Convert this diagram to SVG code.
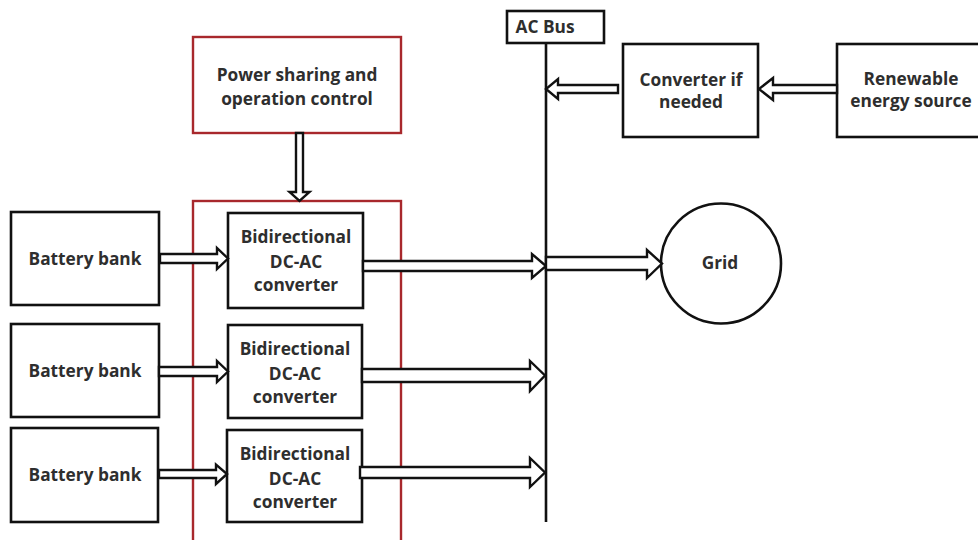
<svg xmlns="http://www.w3.org/2000/svg" width="978" height="540" viewBox="0 0 978 540">
<style>
.box{fill:#fff;stroke:#111;stroke-width:2.6}
.red{fill:none;stroke:#a8282c;stroke-width:2.4}
.arr{fill:#fff;stroke:#111;stroke-width:2.4;stroke-linejoin:miter}
.bus{stroke:#111;stroke-width:2.6;fill:none}
text{font-family:"Open Sans","Liberation Sans",sans-serif;font-weight:700;font-size:17.3px;fill:#2e2e2e;text-anchor:middle}
</style>
<rect width="978" height="540" fill="#fff"/>
<g id="control-group">
<rect class="red" x="193" y="201" width="208" height="345"/>
</g>
<g id="power-sharing">
<rect class="box" x="193" y="37" width="208" height="96" style="stroke:#a8282c;stroke-width:2.4"/>
<text x="297" y="81">Power sharing and</text>
<text x="297" y="105">operation control</text>
</g>
<g id="ac-bus">
<rect class="box" x="507" y="11" width="97" height="32"/>
<text x="545" y="33">AC Bus</text>
<line class="bus" x1="546" y1="43" x2="546" y2="522"/>
</g>
<g id="converter-if-needed">
<rect class="box" x="623" y="44" width="135" height="93"/>
<text x="691" y="86">Converter if</text>
<text x="691" y="108">needed</text>
</g>
<g id="renewable">
<rect class="box" x="837" y="44" width="150" height="93"/>
<text x="911" y="85">Renewable</text>
<text x="911" y="107">energy source</text>
</g>
<g id="grid">
<circle class="box" cx="721" cy="263.5" r="60"/>
<text x="720" y="269">Grid</text>
</g>
<g id="battery-1">
<rect class="box" x="11" y="212" width="148" height="93"/>
<text x="85" y="265">Battery bank</text>
</g>
<g id="battery-2">
<rect class="box" x="11" y="324" width="148" height="93"/>
<text x="85" y="377">Battery bank</text>
</g>
<g id="battery-3">
<rect class="box" x="11" y="428" width="147" height="94"/>
<text x="85" y="481">Battery bank</text>
</g>
<g id="converter-1">
<rect class="box" x="228" y="213" width="135" height="95"/>
<text x="296" y="243">Bidirectional</text>
<text x="296" y="268">DC-AC</text>
<text x="296" y="291">converter</text>
</g>
<g id="converter-2">
<rect class="box" x="228" y="325" width="134" height="93"/>
<text x="295" y="355">Bidirectional</text>
<text x="295" y="380">DC-AC</text>
<text x="295" y="403">converter</text>
</g>
<g id="converter-3">
<rect class="box" x="227" y="430" width="135" height="92"/>
<text x="295" y="460">Bidirectional</text>
<text x="295" y="485">DC-AC</text>
<text x="295" y="508">converter</text>
</g>
<g id="connectors">
<path class="arr" d="M296,133 V192 H289.5 L299.5,201 L309.5,192 H303 V133 Z"/>
<path class="arr" d="M160,254 H217 V248 L228,258.5 L217,269 V263 H160 Z"/>
<path class="arr" d="M159,367 H217 V361 L228,371.5 L217,382 V376 H159 Z"/>
<path class="arr" d="M159,470 H216 V464.5 L227,474 L216,484 V478 H159 Z"/>
<path class="arr" d="M363,261 H532 V254 L546,266 L532,278 V271 H363 Z"/>
<path class="arr" d="M362,369 H530 V361 L545,375.5 L530,391 V382 H362 Z"/>
<path class="arr" d="M360,467 H530 V458 L545,472.5 L530,487 V478 H360 Z"/>
<path class="arr" d="M546,257 H647 V250 L662,263.5 L647,278 V270 H546 Z"/>
<path class="arr" d="M837,85 H773 V78 L759,89 L773,100 V93 H837 Z"/>
<path class="arr" d="M618,85 H558 V79 L546,89 L558,99 V93 H618 Z"/>
</g>
</svg>
